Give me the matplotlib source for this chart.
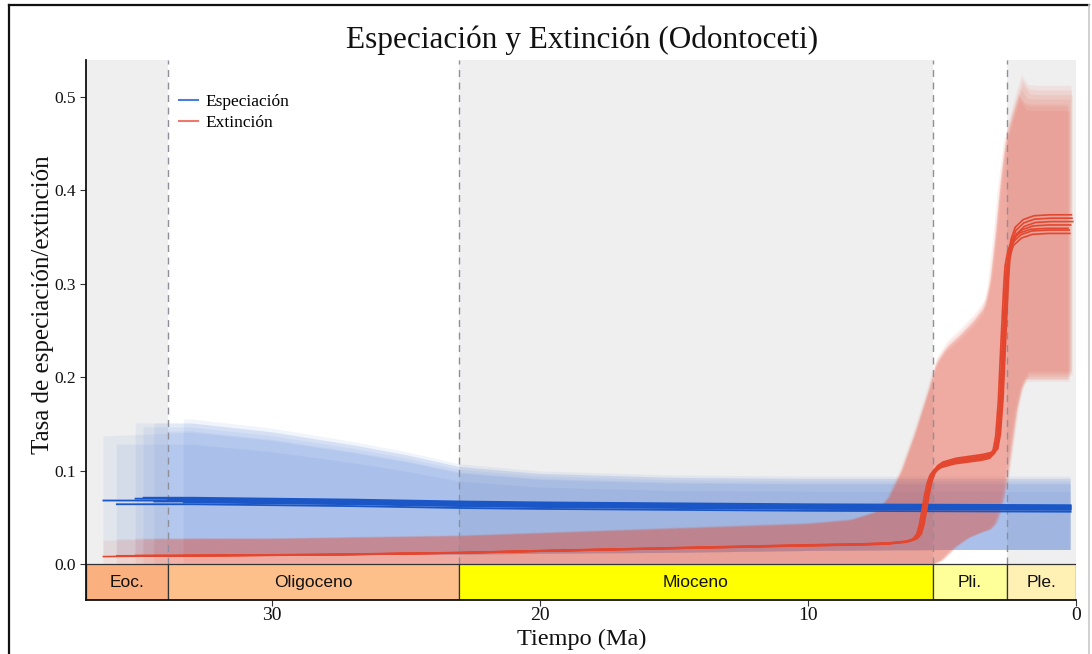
import numpy as np
import matplotlib
matplotlib.use("Agg")
import matplotlib.pyplot as plt
from matplotlib.patches import Rectangle
from matplotlib.lines import Line2D

# Geological epochs (Ma)
epoch_names = ["Eoc.", "Oligoceno", "Mioceno", "Pli.", "Ple."]
epoch_old = [36.95, 33.9, 23.03, 5.333, 2.58]
epoch_young = [33.9, 23.03, 5.333, 2.58, 0.0]
epoch_colors = ["#FAB07F", "#FEC08B", "#FFFF00", "#FFFF99", "#FFF0B3"]
epoch_shaded = [True, False, True, False, True]

# Root age of each replicate (Ma)
run_start = [36.3, 35.8, 35.1, 34.8, 34.4, 33.9, 33.3]

# Speciation rate through time: median and 95% interval
spec_time = [36.3, 33.0, 30.0, 27.0, 25.0, 23.0, 20.0, 15.0, 10.0, 5.0, 0.2]
spec_median = [0.068, 0.068, 0.067, 0.066, 0.065, 0.064, 0.063, 0.062, 0.061, 0.0605, 0.060]
spec_lower = [0.010, 0.010, 0.010, 0.010, 0.010, 0.010, 0.011, 0.012, 0.014, 0.015, 0.015]
spec_upper = [0.138, 0.142, 0.133, 0.120, 0.110, 0.098, 0.091, 0.087, 0.086, 0.086, 0.086]

# Extinction rate through time: median
ext_time = [36.3, 33.0, 28.0, 23.0, 20.0, 15.0, 10.0, 8.0, 7.0, 6.3, 6.0, 5.85,
            5.75, 5.65, 5.55, 5.45, 5.35, 5.2, 5.0, 4.5, 4.0, 3.5, 3.2, 3.0, 2.9,
            2.8, 2.7, 2.6, 2.55, 2.45, 2.3, 2.0, 1.6, 1.0, 0.2]
ext_median = [0.008, 0.009, 0.010, 0.012, 0.014, 0.017, 0.020, 0.021, 0.022, 0.024,
              0.027, 0.032, 0.042, 0.058, 0.075, 0.088, 0.096, 0.102, 0.106, 0.110,
              0.112, 0.114, 0.116, 0.122, 0.138, 0.176, 0.240, 0.300, 0.322, 0.338,
              0.350, 0.358, 0.362, 0.363, 0.363]
# Extinction 95% interval
ext_up_time = [36.3, 30.0, 23.0, 20.0, 15.0, 10.0, 8.4, 7.5, 7.0, 6.5, 6.0, 5.5, 5.2,
               4.8, 4.3, 3.8, 3.4, 3.2, 3.0, 2.8, 2.6, 2.3, 2.05, 1.8, 1.5, 0.2]
ext_upper = [0.025, 0.027, 0.030, 0.033, 0.038, 0.043, 0.047, 0.055, 0.070, 0.100,
             0.140, 0.185, 0.215, 0.232, 0.245, 0.260, 0.275, 0.300, 0.350, 0.410,
             0.455, 0.485, 0.508, 0.498, 0.497, 0.497]
ext_lo_time = [36.3, 5.3, 5.0, 4.5, 4.0, 3.5, 3.2, 3.0, 2.8, 2.6, 2.4, 2.2, 2.0, 1.8, 0.2]
ext_lower = [0.0, 0.0, 0.004, 0.018, 0.028, 0.034, 0.037, 0.043, 0.058, 0.085,
             0.125, 0.165, 0.190, 0.200, 0.200]

# Replicate-to-replicate variation
spec_median_shift = [0.000, -0.004, 0.002, 0.003, -0.001, 0.001, -0.002]
spec_upper_scale = [0.99, 0.90, 1.06, 1.03, 1.06, 1.00, 1.09]
ext_time_shift = [0.00, 0.05, -0.05, 0.10, -0.08, 0.03, -0.03]
ext_scale = [1.00, 0.985, 1.02, 0.99, 1.01, 0.975, 1.03]

y_ticks = [0.0, 0.1, 0.2, 0.3, 0.4, 0.5]
x_ticks = [30, 20, 10, 0]

SERIF = ["Liberation Serif", "DejaVu Serif"]
SANS = ["Liberation Sans", "DejaVu Sans"]
BLUE = "#1A56C6"
RED = "#E4472F"
BLUE_FILL = "#2A62D0"
RED_FILL = "#E4503A"

fig = plt.figure(figsize=(10.92, 6.54), dpi=100)
ax = fig.add_axes([86 / 1092, 54 / 654, 990 / 1092, 540 / 654])
X_MAX, X_MIN = 36.95, 0.0
Y_MIN, Y_MAX = -0.0385, 0.5396
ax.set_xlim(X_MAX, X_MIN)
ax.set_ylim(Y_MIN, Y_MAX)


def clip_run(t, v, start, shift=0.0, scale=1.0, add=0.0):
    t = np.asarray(t, float) + shift
    v = np.asarray(v, float) * scale + add
    keep = t <= start
    tt = np.r_[start, t[keep]]
    vv = np.r_[v[keep][0], v[keep]]
    return tt, vv


# background panels for the epochs
for old, young, shaded in zip(epoch_old, epoch_young, epoch_shaded):
    if shaded:
        ax.add_patch(Rectangle((young, 0), old - young, Y_MAX, facecolor="#EFEFEF",
                               edgecolor="none", zorder=0))

# speciation intervals
for i, s in enumerate(run_start):
    tu, yu = clip_run(spec_time, spec_upper, s, scale=spec_upper_scale[i])
    tl, yl = clip_run(spec_time, spec_lower, s)
    ax.fill(np.r_[tu, tl[::-1]], np.r_[yu, yl[::-1]], color=BLUE_FILL, alpha=0.068,
            lw=0, zorder=2)

# extinction intervals
for i, s in enumerate(run_start):
    tu, yu = clip_run(ext_up_time, ext_upper, s, shift=ext_time_shift[i], scale=ext_scale[i])
    tl, yl = clip_run(ext_lo_time, ext_lower, s, shift=ext_time_shift[i], scale=ext_scale[i])
    ax.fill(np.r_[tu, tl[::-1]], np.r_[yu, yl[::-1]], color=RED_FILL, alpha=0.087,
            lw=0, zorder=3)

# epoch boundaries
for b in epoch_old[1:]:
    ax.plot([b, b], [0, Y_MAX], color="#8F8F9C", lw=1.0, ls=(0, (5, 4)), zorder=3.5)

# median rates
for i, s in enumerate(run_start):
    t, v = clip_run(spec_time, spec_median, s, add=spec_median_shift[i])
    ax.plot(t, v, color=BLUE, lw=1.3, zorder=4)
for i, s in enumerate(run_start):
    t, v = clip_run(ext_time, ext_median, s, shift=ext_time_shift[i], scale=ext_scale[i])
    ax.plot(t, v, color=RED, lw=1.2, zorder=5)

# geological time scale bar
for name, old, young, col in zip(epoch_names, epoch_old, epoch_young, epoch_colors):
    ax.add_patch(Rectangle((young, Y_MIN), old - young, -Y_MIN, facecolor=col,
                           edgecolor="#333333", lw=0.9, zorder=6))
    ax.text((old + young) / 2, Y_MIN / 2, name, ha="center", va="center",
            fontsize=12.5, family=SANS, color="#111111", zorder=7)

ax.set_yticks(y_ticks)
ax.set_yticklabels([f"{v:.1f}" for v in y_ticks])
ax.set_xticks(x_ticks)
ax.set_xticklabels([str(v) for v in x_ticks])
ax.tick_params(axis="both", length=4, width=0.8, color="#333333",
               labelcolor="#111111")
ax.tick_params(axis="y", labelsize=12.5, pad=3)
ax.tick_params(axis="x", labelsize=14, pad=1)
for lab in ax.get_xticklabels() + ax.get_yticklabels():
    lab.set_family(SERIF)
for side in ["top", "right"]:
    ax.spines[side].set_visible(False)
for side in ["left", "bottom"]:
    ax.spines[side].set_linewidth(1.3)
    ax.spines[side].set_color("#111111")
    ax.spines[side].set_zorder(8)

handles = [Line2D([], [], color="#4A7DE0", lw=1.5, label="Especiación"),
           Line2D([], [], color="#EE7A6C", lw=1.5, label="Extinción")]
leg = ax.legend(handles=handles, loc="upper left", bbox_to_anchor=(163 / 1092, 1 - 78 / 654),
                bbox_transform=fig.transFigure, frameon=False, handlelength=1.1,
                handletextpad=0.45, labelspacing=0.3, prop={"family": SERIF, "size": 12.5})

fig.text(582 / 1092, 1 - 40 / 654, "Especiación y Extinción (Odontoceti)", ha="center",
         va="center", fontsize=22.5, family=SERIF, color="#111111")
fig.text(582 / 1092, 1 - 639 / 654, "Tiempo (Ma)", ha="center", va="center",
         fontsize=17.5, family=SERIF, color="#111111")
fig.text(43 / 1092, 1 - 305 / 654, "Tasa de especiación/extinción", ha="center",
         va="center", rotation=90, fontsize=18, family=SERIF, color="#111111")

# outer frame
fig.add_artist(Line2D([9 / 1092, 9 / 1092], [0, 1 - 5 / 654], color="#111111", lw=1.6,
                      transform=fig.transFigure))
fig.add_artist(Line2D([9 / 1092, 1089 / 1092], [1 - 5 / 654, 1 - 5 / 654], color="#111111",
                      lw=1.6, transform=fig.transFigure))
fig.add_artist(Line2D([1089 / 1092, 1089 / 1092], [0, 1 - 5 / 654], color="#C8C8C8", lw=1.2,
                      transform=fig.transFigure))

fig.savefig("out.png", dpi=100)
